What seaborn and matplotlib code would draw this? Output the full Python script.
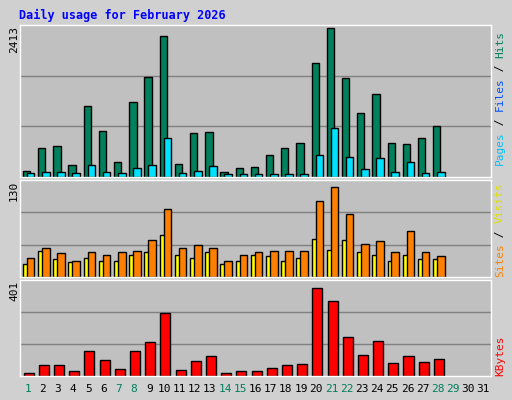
import matplotlib
matplotlib.use("Agg")
import matplotlib.pyplot as plt
import seaborn as sns
import pandas as pd
import numpy as np

days = list(range(1, 29))
hits = [100,470,500,195,1130,740,245,1195,1595,2255,210,695,725,85,150,165,355,470,535,1825,2370,1580,1015,1320,550,530,630,810]
files = [65,85,85,65,195,85,65,145,195,630,65,100,175,40,40,55,55,55,55,355,775,320,135,305,85,245,65,85]
visits = [18,35,24,20,26,22,21,29,33,56,30,26,33,18,21,30,28,22,25,51,37,50,34,29,22,30,24,24]
sites = [26,39,32,22,34,29,33,35,50,92,39,43,39,21,30,34,35,35,35,102,121,85,45,49,33,62,33,28]
kbytes = [14,46,46,22,107,66,30,107,143,265,26,62,82,14,22,22,34,46,50,370,313,163,90,147,54,86,58,70]
xlabels = [str(i) for i in range(1, 32)]
weekend = {1,7,8,14,15,21,22,28,29}
max_hits, max_sites, max_kb = 2413, 130, 401

sns.set_style("white")
plt.rcParams['font.family'] = ['DejaVu Sans Mono', 'DejaVu Sans']

fig = plt.figure(figsize=(5.12, 4.0), dpi=100, facecolor="#D0D0D0")
W, H = 512, 400
def ax_at(x0, y0, x1, y1):
    return fig.add_axes([x0/W, 1-y1/H, (x1-x0)/W, (y1-y0)/H])

panels = [(25, 177), (180, 277), (280, 376)]
axes = [ax_at(20, p[0], 491, p[1]) for p in panels]
tops = [max_hits*1.005, max_sites*1.005, max_kb*1.005]
for ax, top in zip(axes, tops):
    ax.set_facecolor("#C0C0C0")
    for g in (top/3, 2*top/3):
        ax.axhline(g, color="#808080", lw=1, zorder=0)
    for s in ax.spines.values():
        s.set_color("white"); s.set_linewidth(1)

def bars(ax, vals, off, width, color):
    df = pd.DataFrame({"x": [d + off for d in days], "y": vals})
    sns.barplot(data=df, x="x", y="y", native_scale=True, width=width,
                color=color, edgecolor="black", linewidth=1, saturation=1, ax=ax)
    ax.set_xlabel(""); ax.set_ylabel("")

bars(axes[0], hits, -0.07, 0.48, "#00805C")
bars(axes[0], files, 0.2, 0.5, "#00E0FF")
bars(axes[1], visits, -0.07, 0.48, "#FFFF00")
bars(axes[1], sites, 0.2, 0.5, "#FF8000")
bars(axes[2], kbytes, 0.07, 0.66, "#FF0000")
for ax, top in zip(axes, tops):
    ax.set_xlim(0.5, 31.5); ax.set_ylim(0, top)
    ax.set_xticks([]); ax.set_yticks([])

for (y0, _), lab in zip(panels, ["2413", "130", "401"]):
    fig.text(14/W, 1-(y0+1)/H, lab, rotation=90, ha="center", va="top", fontsize=8, color="black")

for i, lab in enumerate(xlabels):
    x = 20 + (i + 0.5) * (471/31)
    fig.text(x/W, 1-389/H, lab, ha="center", va="center", fontsize=8,
             color="#00805C" if (i+1) in weekend else "black")

CH = 8 * 0.602 * 100 / 72  # char advance in px
def rlabel(parts, ybottom):
    y = ybottom
    for txt, col in parts:
        fig.text(500/W, 1-y/H, txt, rotation=90, ha="center", va="bottom", fontsize=8,
                 color=col, rotation_mode="anchor" if False else "default")
        y -= len(txt) * CH
rlabel([("Pages", "#00C0FF"), (" / ", "black"), ("Files", "#0050FF"), (" / ", "black"), ("Hits", "#00805C")], 165)
rlabel([("Sites", "#FF8000"), (" / ", "black"), ("Visits", "#E0E000")], 277)
rlabel([("KBytes", "#FF0000")], 376)

fig.text(19/W, 1-15/H, "Daily usage for February 2026", ha="left", va="center",
         fontsize=8.5, fontweight="bold", color="#0000FF")

fig.savefig("out.png", dpi=100, facecolor=fig.get_facecolor())
